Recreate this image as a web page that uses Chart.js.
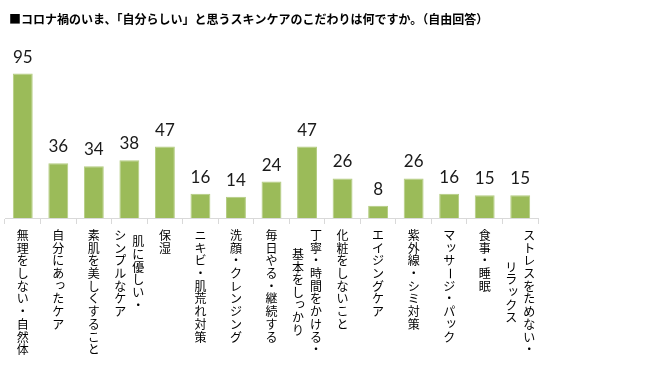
<!DOCTYPE html>
<html>
<head>
<meta charset="utf-8">
<script src="https://cdn.jsdelivr.net/npm/chart.js@4.4.0/dist/chart.umd.min.js"></script>
<style>
  html, body { margin: 0; padding: 0; background: #fff; }
  #wrap { width: 650px; height: 380px; position: relative; }
</style>
</head>
<body>
<div id="wrap"><canvas id="chart"></canvas></div>
<script>
// data
const titleText = "■コロナ禍のいま、「自分らしい」と思うスキンケアのこだわりは何ですか。（自由回答）";
const categories = [
  ["無理をしない・自然体"],
  ["自分にあったケア"],
  ["素肌を美しくすること"],
  ["肌に優しい・", "シンプルなケア"],
  ["保湿"],
  ["ニキビ・肌荒れ対策"],
  ["洗顔・クレンジング"],
  ["毎日やる・継続する"],
  ["丁寧・時間をかける・", "基本をしっかり"],
  ["化粧をしないこと"],
  ["エイジングケア"],
  ["紫外線・シミ対策"],
  ["マッサージ・パック"],
  ["食事・睡眠"],
  ["ストレスをためない・", "リラックス"]
];
const counts = [95, 36, 34, 38, 47, 16, 14, 24, 47, 26, 8, 26, 16, 15, 15];

const jpFont = '"Noto Sans CJK JP", "Noto Sans", sans-serif';
const smallKana = "ッャュョァィゥェォっゃゅょぁぃぅぇぉ";

// title, value labels and vertical (tategaki) category labels
const extras = {
  id: "extras",
  afterDraw(chart) {
    const ctx = chart.ctx;
    const x = chart.scales.x;
    const meta = chart.getDatasetMeta(0);
    ctx.save();

    ctx.fillStyle = "#000";
    ctx.font = "bold 12px " + jpFont;
    ctx.textAlign = "left";
    ctx.textBaseline = "middle";
    ctx.fillText(titleText, 9, 19);

    ctx.font = '17px Lato, "Open Sans", sans-serif';
    ctx.textAlign = "center";
    ctx.textBaseline = "alphabetic";
    ctx.fillStyle = "#1a1a1a";
    meta.data.forEach((bar, i) => {
      ctx.fillText(String(counts[i]), bar.x, bar.y - 11);
    });

    ctx.font = "12px " + jpFont;
    ctx.fillStyle = "#000";
    ctx.textBaseline = "middle";
    const step = 12.7, colGap = 18, top = 229;
    categories.forEach((lines, i) => {
      const cx = x.getPixelForValue(i);
      const maxLen = Math.max(...lines.map(l => l.length));
      lines.forEach((line, k) => {
        const colX = cx + ((lines.length - 1) / 2 - k) * colGap;
        const y0 = top + (maxLen - line.length) / 2 * step;
        [...line].forEach((ch, j) => {
          const cy = y0 + step * (j + 0.5);
          if (ch === "ー") {
            ctx.save();
            ctx.translate(colX, cy);
            ctx.rotate(Math.PI / 2);
            ctx.fillText(ch, 0, 0);
            ctx.restore();
          } else if (smallKana.includes(ch)) {
            ctx.fillText(ch, colX + 2, cy - 2);
          } else {
            ctx.fillText(ch, colX, cy);
          }
        });
      });
    });
    ctx.restore();
  }
};

new Chart(document.getElementById("chart"), {
  type: "bar",
  data: {
    labels: categories.map(c => c.join("")),
    datasets: [{
      data: counts,
      backgroundColor: "#9bbb59",
      borderColor: "#b3cc80",
      borderWidth: 1,
      barPercentage: 0.56,
      categoryPercentage: 1
    }]
  },
  options: {
    responsive: true,
    maintainAspectRatio: false,
    animation: false,
    layout: { padding: { left: 5, right: 112, top: 66, bottom: 156 } },
    plugins: { legend: { display: false }, tooltip: { enabled: false }, title: { display: false } },
    scales: {
      x: {
        ticks: { display: false },
        grid: { drawOnChartArea: false, tickLength: 6, color: "#d9d9d9", offset: true },
        border: { color: "#d9d9d9" }
      },
      y: { display: false, min: 0, max: 100 }
    }
  },
  plugins: [extras]
});
</script>
</body>
</html>
